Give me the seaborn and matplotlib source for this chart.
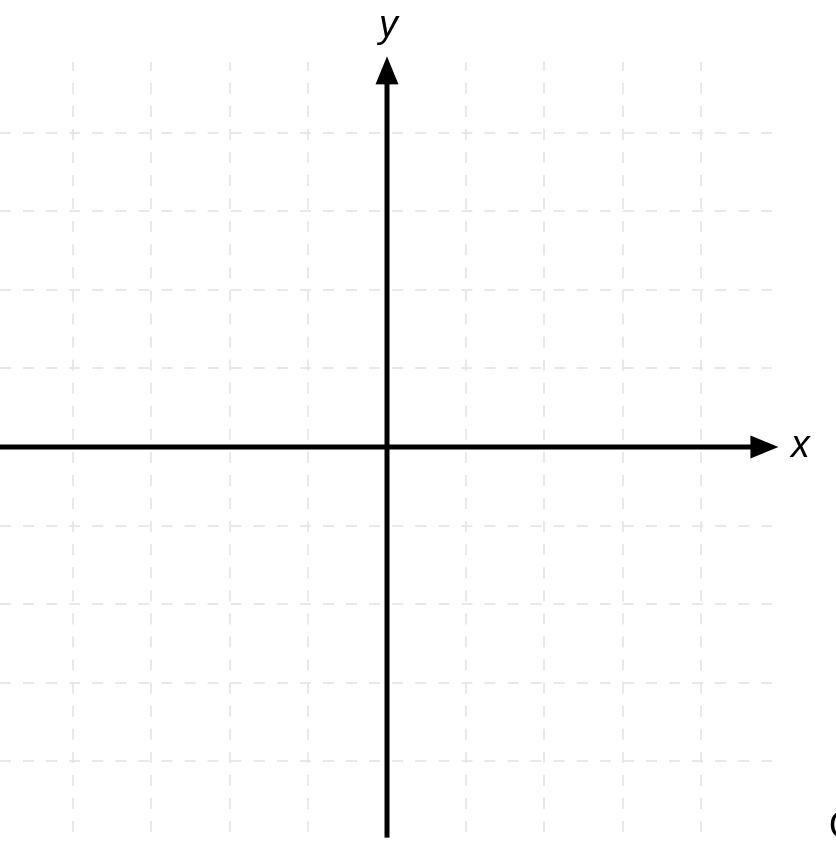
import numpy as np
import matplotlib
matplotlib.use("Agg")
import matplotlib.pyplot as plt
import seaborn as sns

# grid positions (unit squares) and axis extents
grid_ticks = [-4, -3, -2, -1, 1, 2, 3, 4]
grid_extent = [-4.92, 4.9]
x_axis = [-4.95, 4.98]
y_axis = [-4.97, 4.97]
axis_labels = ["x", "y"]
corner_label = "O"

sns.set_style("white")
plt.rcParams['font.family'] = ['Liberation Sans', 'DejaVu Sans']

fig = plt.figure(figsize=(8.36, 8.68), dpi=100)
ax = fig.add_axes([0, 0, 1, 1])
unit = 78.6
ax.set_xlim(-387 / unit, (836 - 387) / unit)
ax.set_ylim(-(868 - 447) / unit, 447 / unit)
ax.axis("off")

# dashed light grid
dash = (0, (7.2, 7.9))
ax.vlines(grid_ticks, grid_extent[0] + 0.02, grid_extent[1], colors="#e3e3e3",
          linewidth=1.1, linestyles=[dash])
ax.hlines(grid_ticks, grid_extent[0], grid_extent[1], colors="#e3e3e3",
          linewidth=1.1, linestyles=[dash])

# axes with arrowheads
w = 5 / unit
hw = 23 / unit
hl = 28 / unit
ax.arrow(x_axis[0], 0, x_axis[1] - x_axis[0], 0, width=w, head_width=hw,
         head_length=hl, length_includes_head=True, color="black", lw=0)
ax.arrow(0, y_axis[0], 0, y_axis[1] - y_axis[0], width=w, head_width=hw,
         head_length=hl, length_includes_head=True, color="black", lw=0)

ax.text(x_axis[1] + 0.15, 0, axis_labels[0], fontsize=27, style="italic",
        ha="left", va="center", color="black")
ax.text(0, y_axis[1] + 0.15, axis_labels[1], fontsize=27, style="italic",
        ha="center", va="bottom", color="black")
ax.text(828 / unit - 387 / unit, -(828 - 447) / unit, corner_label, fontsize=27,
        ha="left", va="center", color="black")

fig.savefig("out.png", dpi=100)
